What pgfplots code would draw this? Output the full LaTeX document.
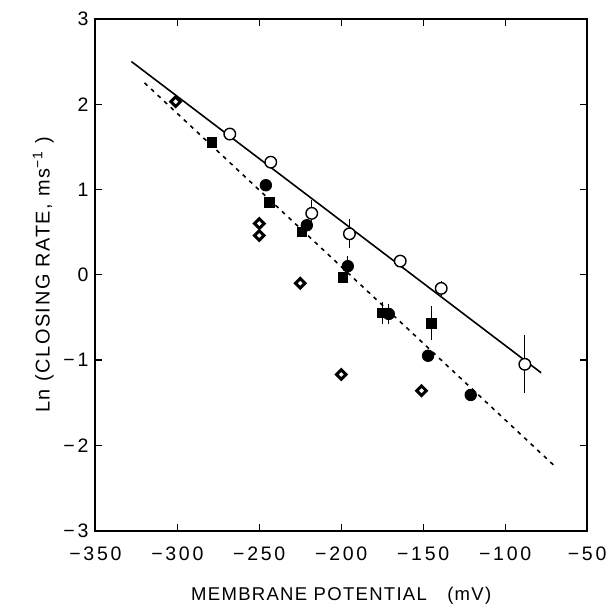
\documentclass[border=0pt]{standalone}
\usepackage{pgfplots}
\pgfplotsset{compat=1.18}
\usepackage{fontspec}
\setmainfont{Liberation Sans}
\begin{document}
\begin{tikzpicture}
\begin{axis}[
  scale only axis,
  width=247pt, height=257pt,
  xmin=-350, xmax=-50, ymin=-3, ymax=3,
  xtick={-350,-300,-250,-200,-150,-100,-50},
  xticklabels={−350,−300,−250,−200,−150,−100,−50},
  ytick={-3,-2,-1,0,1,2,3},
  yticklabels={−3,−2,−1,0,1,2,3},
  tick align=inside,
  major tick length=3.5pt,
  tick style={black, line width=0.6pt},
  axis line style={line width=1pt},
  ticklabel style={font=\fontsize{9.8}{11}\selectfont\addfontfeatures{LetterSpace=14}},
  xticklabel style={yshift=-4.5pt},
  xlabel={\fontsize{9.3}{11}\selectfont\addfontfeatures{LetterSpace=7}MEMBRANE POTENTIAL\hspace{1.1em}(mV)},
  ylabel={\fontsize{10}{11}\selectfont\addfontfeatures{LetterSpace=8}Ln (CLOSING RATE, ms\textsuperscript{−1} )},
  xlabel style={yshift=-6.5pt},
  ylabel style={yshift=-2pt},
  clip=false,
]
% fitted lines
\addplot[black, line width=0.8pt] coordinates {(-328,2.50) (-78,-1.15)};
\addplot[black, line width=0.8pt, dash pattern=on 2pt off 2.5pt] coordinates {(-320,2.25) (-70,-2.24)};
% open circles
\addplot[only marks, mark=*, mark size=2.9pt, mark options={fill=white, draw=black, line width=0.7pt},
  error bars/.cd, y dir=both, y explicit, error mark=none,
  error bar style={line width=0.6pt}]
  table[x=x, y=y, y error=e] {
x y e
-268 1.65 0
-243 1.32 0
-218 0.72 0.16
-195 0.48 0.17
-164 0.16 0.05
-139 -0.16 0.09
-88 -1.05 0.34
};
% filled circles
\addplot[only marks, mark=*, mark size=2.9pt, mark options={fill=black, draw=black},
  error bars/.cd, y dir=both, y explicit, error mark=none,
  error bar style={line width=0.6pt}]
  table[x=x, y=y, y error=e] {
x y e
-246 1.05 0
-221 0.58 0
-196 0.10 0.12
-171 -0.46 0.12
-147 -0.95 0
-121 -1.41 0
};
% filled squares
\addplot[only marks, mark=square*, mark size=2.4pt, mark options={fill=black, draw=black},
  error bars/.cd, y dir=both, y explicit, error mark=none,
  error bar style={line width=0.6pt}]
  table[x=x, y=y, y error=e] {
x y e
-279 1.55 0
-244 0.85 0
-224 0.50 0
-199 -0.03 0
-175 -0.45 0.13
-145 -0.57 0.20
};
% diamonds
\addplot[only marks, mark=square*, mark size=1.7pt, mark options={rotate=45, fill=white, draw=black, line width=1.5pt}]
  table[x=x, y=y] {
x y
-301 2.03
-250 0.60
-250 0.46
-225 -0.10
-200 -1.17
-151 -1.36
};
\path[draw=none] (rel axis cs:-0.194,-0.144) rectangle (rel axis cs:1.047,1.037);
\end{axis}
\end{tikzpicture}
\end{document}
